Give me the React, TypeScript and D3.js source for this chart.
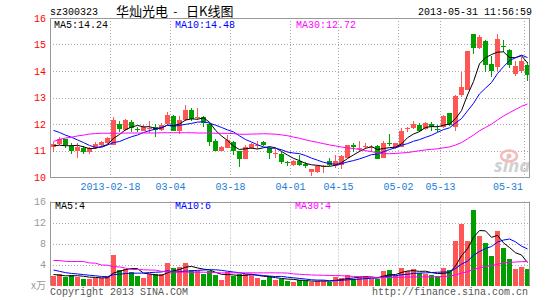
import React from 'react';
import * as d3 from 'd3';

const W = 545;
const H = 300;

const opens = [
  11.14, 11.24, 11.42, 11.18, 10.97, 11.11, 10.95, 11.1, 11.2, 11.27,
  11.2, 12.0, 11.77, 12.09, 11.8, 11.75, 11.82, 11.89, 11.78, 12.0,
  12.32, 11.75, 12.16, 12.53, 12.22, 12.25, 12.0, 11.35, 10.98, 11.1,
  11.32, 10.97, 10.67, 11.1, 11.2, 11.32, 11.1, 10.9, 10.88, 10.55,
  10.45, 10.6, 10.5, 10.18, 10.2, 10.42, 10.6, 10.4, 10.45, 10.73,
  11.22, 11.04, 11.16, 11.1, 11.16, 10.7, 11.3, 11.1, 11.15, 11.83,
  11.84, 11.96, 11.8, 12.0, 11.82, 11.9, 12.4, 11.9, 13.11, 13.28,
  15.38, 14.85, 15.13, 14.25, 14.16, 14.93, 14.79, 13.87, 14.0, 14.22,
];
const closes = [
  11.24, 11.43, 11.2, 10.97, 11.14, 10.95, 11.1, 11.25, 11.33, 11.48,
  12.15, 11.81, 12.15, 11.84, 11.78, 11.87, 11.86, 11.78, 11.96, 12.34,
  11.75, 12.16, 12.53, 12.19, 12.26, 12.03, 11.33, 11.0, 11.13, 11.39,
  10.98, 10.69, 11.14, 11.25, 11.22, 11.22, 10.9, 10.92, 10.57, 10.53,
  10.6, 10.47, 10.4, 10.3, 10.43, 10.43, 10.45, 10.6, 10.78, 11.22,
  11.12, 11.1, 11.18, 11.12, 10.67, 11.3, 11.27, 11.27, 11.72, 11.85,
  12.0, 11.73, 12.04, 11.9, 11.8, 12.3, 11.95, 13.07, 13.4, 14.75,
  14.85, 15.29, 14.22, 14.0, 15.2, 14.9, 14.22, 14.19, 14.37, 13.84,
];
const highs = [
  11.33, 11.52, 11.45, 11.27, 11.27, 11.18, 11.15, 11.33, 11.37, 11.52,
  12.28, 12.1, 12.19, 12.15, 11.9, 11.96, 12.1, 11.99, 12.03, 12.47,
  12.35, 12.32, 12.72, 12.6, 12.6, 12.32, 12.04, 11.45, 11.16, 11.58,
  11.35, 11.0, 11.2, 11.28, 11.35, 11.35, 11.15, 11.07, 10.95, 10.6,
  10.63, 10.82, 10.56, 10.3, 10.46, 10.46, 10.7, 10.82, 10.84, 11.22,
  11.28, 11.35, 11.28, 11.22, 11.22, 11.35, 11.63, 11.3, 11.85, 11.9,
  12.1, 12.02, 12.08, 12.08, 11.96, 12.33, 12.43, 13.1, 13.97, 14.75,
  15.38, 15.35, 15.16, 14.56, 15.38, 15.16, 14.82, 14.37, 14.53, 14.35,
];
const lows = [
  10.95, 11.2, 11.08, 10.87, 10.72, 10.87, 10.88, 11.07, 11.18, 11.23,
  11.2, 11.7, 11.73, 11.7, 11.7, 11.72, 11.66, 11.52, 11.75, 11.97,
  11.72, 11.61, 12.1, 12.1, 12.15, 11.9, 11.18, 10.97, 10.97, 11.1,
  10.82, 10.37, 10.67, 11.05, 11.07, 11.18, 10.67, 10.72, 10.5, 10.42,
  10.42, 10.42, 10.34, 10.05, 10.16, 10.16, 10.4, 10.33, 10.29, 10.73,
  10.96, 10.96, 11.04, 10.96, 10.67, 10.7, 11.18, 11.05, 11.15, 11.7,
  11.81, 11.7, 11.77, 11.73, 11.7, 11.86, 11.92, 11.73, 13.02, 13.28,
  14.66, 14.82, 13.97, 13.78, 13.97, 14.72, 14.12, 13.82, 13.94, 13.62,
];
const volumes = [
  1.78, 2.16, 1.7, 1.97, 1.7, 1.27, 1.27, 1.5, 1.5, 1.84,
  5.78, 2.92, 3.1, 2.48, 1.84, 1.46, 2.16, 2.1, 2.1, 4.25,
  3.24, 3.56, 4.25, 2.92, 2.73, 2.16, 2.79, 1.97, 1.0, 2.48,
  1.84, 2.16, 2.1, 2.1, 1.46, 1.0, 1.78, 1.14, 1.33, 0.89,
  0.7, 1.0, 0.89, 0.7, 0.89, 0.89, 0.7, 1.65, 1.46, 1.97,
  1.33, 1.65, 1.84, 1.33, 1.33, 2.79, 2.98, 1.97, 3.3, 2.79,
  3.1, 2.29, 2.16, 1.97, 1.84, 3.37, 2.98, 8.44, 11.73, 8.44,
  14.34, 9.4, 8.1, 5.58, 10.34, 7.17, 5.0, 3.1, 3.48, 3.1,
];

// moving-average values before a full window exists
const ma5Head = [11.18, 11.2, 11.18, 11.18];
const ma10Head = [11.76, 11.68, 11.58, 11.5, 11.4, 11.3, 11.19, 11.12, 11.12];
const ma30Head = [
  11.34, 11.42, 11.47, 11.5, 11.55, 11.58, 11.62, 11.64, 11.65, 11.65,
  11.65, 11.65, 11.66, 11.66, 11.66, 11.66, 11.66, 11.66, 11.67, 11.67,
  11.67, 11.67, 11.67, 11.67, 11.66, 11.66, 11.66, 11.65, 11.65,
];
const vma5Head = [2.1, 1.97, 1.84, 1.84];
const vma10Head = [2.95, 2.7, 2.45, 2.3, 2.2, 2.08, 1.95, 1.85, 1.72];
const vma30Head = [
  4.76, 4.76, 4.6, 4.57, 4.57, 4.57, 4.3, 4.25, 3.9, 3.87,
  3.55, 3.54, 3.3, 3.05, 3.05, 3.0, 2.95, 2.92, 2.7, 2.6,
  2.55, 2.53, 2.53, 2.53, 2.53, 2.53, 2.5, 2.45, 2.4,
];

const tickIndex = [10, 20, 30, 40, 48, 58, 65, 79];
const tickLabels = ['2013-02-18', '03-04', '03-18', '04-01', '04-15', '05-02', '05-13', '05-31'];
const priceTicks = [10, 11, 12, 13, 14, 15, 16];
const volTicks = [4, 8, 12, 16];

const priceLegend = ['MA5:14.24', 'MA10:14.48', 'MA30:12.72'];
const volLegend = ['MA5:4', 'MA10:6', 'MA30:4'];
const maColors = ['#000000', '#0000ff', '#ff00ff'];

const RED = '#ff5555';
const GREEN = '#009f00';
const MONO = '"Liberation Mono", "DejaVu Sans Mono", monospace';
const CJK = '"Noto Sans CJK SC", sans-serif';

function movingAvg(vals: number[], n: number, head: number[]): number[] {
  return vals.map((_, i) => (i < n - 1 ? head[i] : (d3.mean(vals.slice(i - n + 1, i + 1)) as number)));
}

export default function App() {
  const N = closes.length;
  const x = d3.scaleLinear().domain([0, 80]).range([50, 530]);
  const yP = d3.scaleLinear().domain([10, 16]).range([177, 18]);
  const yV = d3.scaleLinear().domain([0, 16]).range([285.5, 201.5]);

  const idx = d3.range(N);
  const pMA = [movingAvg(closes, 5, ma5Head), movingAvg(closes, 10, ma10Head), movingAvg(closes, 30, ma30Head)];
  const vMA = [movingAvg(volumes, 5, vma5Head), movingAvg(volumes, 10, vma10Head), movingAvg(volumes, 30, vma30Head)];

  const cx = (i: number) => x(i) + 3.5;
  const lineP = d3.line<number>().x((_, i) => cx(i)).y((d) => yP(d));
  const lineV = d3.line<number>().x((_, i) => cx(i)).y((d) => yV(d));

  const left = x(0);
  const right = 529.5;
  const pTop = yP(16);
  const pBot = yP(10);
  const vTop = yV(16);
  const vBot = yV(0);

  const labelX = (i: number, s: string) => {
    const c = x(i) + 0.5;
    const half = s.length * 3;
    if (c + half > 523) return { x: 523, anchor: 'end' };
    return { x: c, anchor: 'middle' };
  };

  return (
    <div style={{ position: 'absolute', left: 0, top: 0 }}>
      <svg width={W} height={H} style={{ display: 'block' }}>
        <rect x={0} y={0} width={W} height={H} fill="#ffffff" />

        {/* header */}
        <text x={50} y={15} fontFamily={MONO} fontSize={10} fill="#000">sz300323</text>
        <text x={116} y={15.5} fontFamily={CJK} fontSize={13} fill="#000">华灿光电</text>
        <text x={172} y={15} fontFamily={MONO} fontSize={11} fill="#000">-</text>
        <text x={186} y={15.5} fontFamily={CJK} fontSize={13} fill="#000">日K线图</text>
        <text x={532} y={15} fontFamily={MONO} fontSize={10} fill="#000" textAnchor="end">2013-05-31 11:56:59</text>

        {/* main gridlines */}
        {priceTicks.filter((t) => t > 10 && t < 16).map((t) => (
          <line key={'hp' + t} x1={left} x2={right} y1={Math.round(yP(t)) + 0.5} y2={Math.round(yP(t)) + 0.5}
            stroke="#aaaaaa" strokeDasharray="1,2" />
        ))}
        {tickIndex.map((ti) => (
          <line key={'vp' + ti} x1={x(ti) + 0.5} x2={x(ti) + 0.5} y1={pTop} y2={pBot} stroke="#aaaaaa" strokeDasharray="1,2" />
        ))}
        {/* volume gridlines */}
        {volTicks.filter((t) => t < 16).map((t) => (
          <line key={'hv' + t} x1={left} x2={right} y1={Math.round(yV(t)) + 0.5} y2={Math.round(yV(t)) + 0.5}
            stroke="#aaaaaa" strokeDasharray="1,2" />
        ))}
        {tickIndex.map((ti) => (
          <line key={'vv' + ti} x1={x(ti) + 0.5} x2={x(ti) + 0.5} y1={vTop} y2={vBot} stroke="#aaaaaa" strokeDasharray="1,2" />
        ))}

        {/* watermark */}
        <g opacity={0.9}>
          <ellipse cx={509} cy={156} rx={8} ry={5.5} fill="none" stroke="#f4b4b4" strokeWidth={2.5} />
          <circle cx={509} cy={156} r={2.5} fill="#f4b4b4" />
          <text x={494} y={172} fontFamily='"Noto Sans", sans-serif' fontSize={18} fontWeight="bold" fontStyle="italic"
            fill="#cccccc" textLength={36} lengthAdjust="spacingAndGlyphs">sina</text>
        </g>

        {/* candles */}
        {idx.map((i) => {
          const up = closes[i] >= opens[i];
          const col = up ? RED : GREEN;
          const top = Math.round(yP(Math.max(opens[i], closes[i])));
          const bot = Math.round(yP(Math.min(opens[i], closes[i])));
          const hi = Math.round(yP(highs[i]));
          const lo = Math.round(yP(lows[i]));
          return (
            <g key={'c' + i}>
              <rect x={x(i) + 3} y={hi} width={1} height={Math.max(1, lo - hi)} fill={col} />
              <rect x={x(i) + 1} y={top} width={5} height={Math.max(1, bot - top)} fill={col} />
            </g>
          );
        })}

        {/* volume bars */}
        {idx.map((i) => {
          const up = closes[i] >= opens[i];
          const top = Math.round(yV(volumes[i]));
          return (
            <rect key={'v' + i} x={x(i) + 1} y={top} width={5} height={Math.max(1, Math.round(vBot) - top)}
              fill={up ? RED : GREEN} />
          );
        })}

        {/* moving averages */}
        {pMA.map((m, k) => (
          <path key={'pm' + k} d={lineP(m) as string} fill="none" stroke={maColors[k]} strokeWidth={1} />
        ))}
        {vMA.map((m, k) => (
          <path key={'vm' + k} d={lineV(m) as string} fill="none" stroke={maColors[k]} strokeWidth={1} />
        ))}

        {/* frames */}
        <line x1={left + 0.5} x2={left + 0.5} y1={pTop} y2={pBot} stroke="#999999" />
        <line x1={left} x2={right + 0.5} y1={Math.round(pBot) + 0.5} y2={Math.round(pBot) + 0.5} stroke="#999999" />
        <line x1={left} x2={right + 0.5} y1={Math.round(pTop) + 0.5} y2={Math.round(pTop) + 0.5} stroke="#999999" />
        <line x1={right} x2={right} y1={pTop} y2={pBot} stroke="#999999" />
        <line x1={left + 0.5} x2={left + 0.5} y1={vTop} y2={vBot} stroke="#999999" />
        <line x1={left} x2={right + 0.5} y1={Math.round(vTop) + 0.5} y2={Math.round(vTop) + 0.5} stroke="#999999" />
        <line x1={right} x2={right} y1={vTop} y2={vBot} stroke="#999999" />

        {/* legends */}
        {priceLegend.map((s, k) => (
          <text key={'pl' + k} x={[54, 175, 296][k]} y={28} fontFamily={MONO} fontSize={10} fill={maColors[k]}>{s}</text>
        ))}
        {volLegend.map((s, k) => (
          <text key={'vl' + k} x={[55, 175, 295][k]} y={209} fontFamily={MONO} fontSize={10} fill={maColors[k]}>{s}</text>
        ))}

        {/* price axis labels */}
        {priceTicks.map((t) => (
          <text key={'pt' + t} x={46} y={yP(t) + 3.5} fontFamily={MONO} fontSize={10} fill="#ff0000" textAnchor="end">{t}</text>
        ))}
        {/* volume axis labels */}
        {volTicks.map((t) => (
          <text key={'vt' + t} x={46} y={yV(t) + 3.5} fontFamily={MONO} fontSize={10} fill="#999999" textAnchor="end">{t}</text>
        ))}
        <text x={46} y={yV(0) + 3.5} fontFamily={CJK} fontSize={10} fill="#999999" textAnchor="end">x万</text>

        {/* date labels */}
        {tickIndex.map((ti, k) => {
          const p = labelX(ti, tickLabels[k]);
          return (
            <text key={'dl' + k} x={p.x} y={189.5} fontFamily={MONO} fontSize={10} fill="#1a7dd7"
              textAnchor={p.anchor as any}>{tickLabels[k]}</text>
          );
        })}

        {/* footer */}
        <text x={50} y={295} fontFamily={MONO} fontSize={10} fill="#555555">Copyright 2013 SINA.COM</text>
        <text x={528} y={295} fontFamily={MONO} fontSize={10} fill="#555555" textAnchor="end">http://finance.sina.com.cn</text>
      </svg>
    </div>
  );
}
